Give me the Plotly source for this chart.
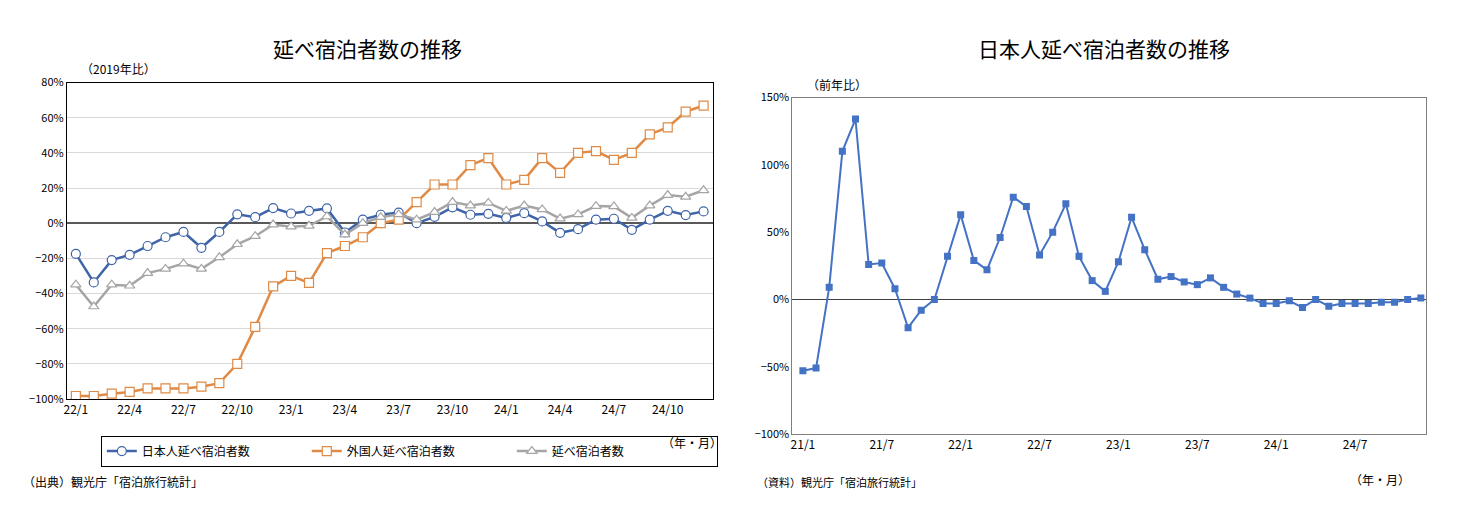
import plotly.graph_objects as go

left_labels = [f"{y}/{m}" for y in (22, 23, 24) for m in range(1, 13)]
japanese = [-17.5, -33.7, -21, -18, -13, -8, -5, -14, -5, 5, 3.4, 8.6, 5.5, 7, 8.4, -5.3, 2, 4.8, 6, 0, 3.6, 9, 4.8, 5.3, 3, 5.7, 1, -5.5, -3.4, 2, 2.5, -3.8, 2, 7, 4.6, 6.7]
foreign = [-98.3, -98.3, -97, -96, -94, -94, -94, -93, -91, -80, -59, -36, -30, -34, -17, -13, -8, 0, 2, 12, 22, 22, 33, 37, 22, 24.6, 37, 28.6, 40, 41, 36, 40, 50.5, 54.5, 63.4, 66.9]
total = [-35, -47.4, -35, -35.6, -28.4, -26, -23, -26, -19.4, -12, -7.4, -0.8, -2, -1.5, 3.8, -6.5, 0, 3.4, 5, 2, 6.3, 12, 10, 11.5, 7, 10, 7.8, 2.6, 5, 9.7, 9.5, 3, 10, 16, 15, 18.7]

right_labels = [f"{y}/{m}" for y in (21, 22, 23, 24) for m in range(1, 13)]
jp_yoy = [-53, -51, 9, 110, 134, 26, 27, 8, -21, -8, 0, 32,
          63, 29, 22, 46, 76, 69, 33, 50, 71, 32, 14, 6,
          28, 61, 37, 15, 17, 13, 11, 16, 9, 4, 1, -3,
          -3, -1, -6, 0, -5, -3, -3, -3, -2, -2, 0, 1]

FONT = "Noto Sans CJK JP"
W, H = 1459, 525

def px(x):
    return (x - 10) / W

def py(y):
    return 1 - ((y - 16.6) / 0.968) / H

fig = go.Figure()
xl = list(range(len(left_labels)))
fig.add_trace(go.Scatter(x=xl, y=japanese, name="日本人延べ宿泊者数", mode="lines+markers",
    line=dict(color="#3f64a8", width=2.5), marker=dict(symbol="circle", size=9, color="white", line=dict(color="#3f64a8", width=1.2))))
fig.add_trace(go.Scatter(x=xl, y=foreign, name="外国人延べ宿泊者数", mode="lines+markers",
    line=dict(color="#e08a45", width=2.5), marker=dict(symbol="square", size=9, color="white", line=dict(color="#e08a45", width=1.2))))
fig.add_trace(go.Scatter(x=xl, y=total, name="延べ宿泊者数", mode="lines+markers",
    line=dict(color="#a5a5a5", width=2.5), marker=dict(symbol="triangle-up", size=9, color="white", line=dict(color="#a5a5a5", width=1.2))))
xr = list(range(len(right_labels)))
fig.add_trace(go.Scatter(x=xr, y=jp_yoy, mode="lines+markers", showlegend=False, xaxis="x2", yaxis="y2",
    line=dict(color="#4472c4", width=2), marker=dict(symbol="square", size=7, color="#4472c4")))

fig.update_layout(
    width=W, height=H, margin=dict(l=0, r=0, t=0, b=0),
    paper_bgcolor="white", plot_bgcolor="white",
    font=dict(family=FONT, size=12, color="black"),
    xaxis=dict(domain=[px(66), px(713)], range=[-0.5, 35.5], tickmode="array",
               tickvals=xl[::3], ticktext=left_labels[::3], showgrid=False, zeroline=False,
               showline=True, linecolor="black", mirror=True, ticks="", tickfont=dict(size=12)),
    yaxis=dict(domain=[py(398), py(82)], range=[-100, 80], dtick=20, ticksuffix="%",
               showgrid=True, gridcolor="#d9d9d9", zeroline=True, zerolinecolor="#595959", zerolinewidth=1.5,
               showline=True, linecolor="black", mirror=True, tickfont=dict(size=11)),
    xaxis2=dict(domain=[px(793), px(1428)], range=[-0.8, 47.4], anchor="y2", tickmode="array",
                tickvals=xr[::6], ticktext=right_labels[::6], showgrid=False, zeroline=False,
                showline=True, linecolor="#7f7f7f", mirror=True, ticks="", tickfont=dict(size=12)),
    yaxis2=dict(domain=[py(433), py(97)], range=[-100, 150], dtick=50, ticksuffix="%", anchor="x2",
                showgrid=False, zeroline=True, zerolinecolor="#404040", zerolinewidth=1,
                showline=True, linecolor="#7f7f7f", mirror=True, tickfont=dict(size=11)),
    legend=dict(orientation="h", x=px(100), y=py(450), xanchor="left", yanchor="middle",
                bordercolor="black", borderwidth=1, font=dict(size=12), itemwidth=30,
                entrywidth=160, tracegroupgap=0),
)
ann = [
    dict(x=367, y=48, text="延べ宿泊者数の推移", size=21),
    dict(x=1105, y=48, text="日本人延べ宿泊者数の推移", size=21),
    dict(x=118, y=68, text="（2019年比）", size=12),
    dict(x=838, y=84, text="（前年比）", size=12),
    dict(x=692, y=441, text="（年・月）", size=12),
    dict(x=1382, y=478, text="（年・月）", size=12),
    dict(x=112, y=480, text="（出典）観光庁「宿泊旅行統計」", size=12),
    dict(x=840, y=481, text="（資料）観光庁「宿泊旅行統計」", size=11),
]
for a in ann:
    fig.add_annotation(x=px(a["x"]), y=py(a["y"]), xref="paper", yref="paper",
                       xanchor="center", yanchor="middle",
                       text=a["text"], showarrow=False, font=dict(size=a["size"], family=FONT))
fig.write_html("out.html")
